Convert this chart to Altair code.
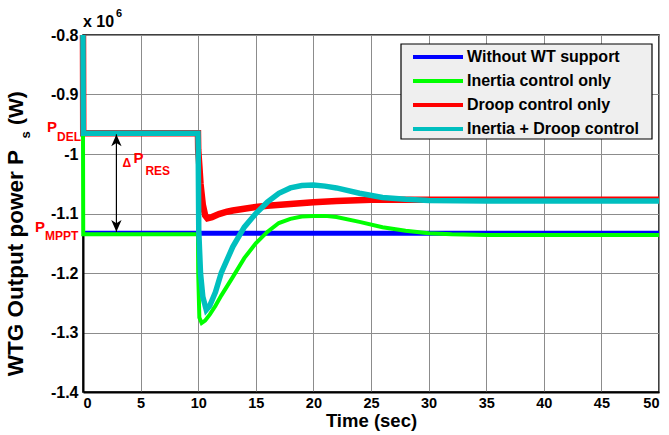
import altair as alt
import pandas as pd

FONT = "Liberation Sans"

SERIES = ["Without WT support", "Inertia control only",
          "Droop control only", "Inertia + Droop control"]
COLORS = ["#0000ff", "#00ff00", "#ff0000", "#00bfbf"]

# Output power in units of 1e6 W
blue_t = [0, 50]
blue_v = [-1.133, -1.133]

green_t = [0, 0.02, 9.98, 10.0, 10.1, 10.3, 10.6, 11.0, 11.5, 12, 13, 14, 15,
           16, 17, 18, 19, 20, 21, 22, 24, 26, 28, 30, 32, 35, 40, 50]
green_v = [-0.966, -1.135, -1.135, -1.20, -1.275, -1.284, -1.280, -1.270,
           -1.255, -1.238, -1.207, -1.175, -1.150, -1.131, -1.116, -1.109,
           -1.105, -1.104, -1.104, -1.106, -1.114, -1.123, -1.129, -1.133,
           -1.135, -1.136, -1.136, -1.136]

red_t = [0, 0.02, 9.98, 10.0, 10.1, 10.2, 10.4, 10.6, 10.8, 11.2, 11.8, 12.5,
         13, 14, 15, 16, 18, 20, 22, 25, 28, 30, 35, 50]
red_v = [-0.80, -0.965, -0.965, -0.993, -1.02, -1.05, -1.085, -1.103, -1.108,
         -1.106, -1.101, -1.097, -1.095, -1.092, -1.089, -1.087, -1.084,
         -1.081, -1.079, -1.077, -1.077, -1.077, -1.077, -1.077]

cyan_t = [0, 0.02, 9.98, 10.0, 10.05, 10.2, 10.4, 10.7, 11.0, 11.5, 12, 13,
          14, 15, 16, 17, 18, 19, 20, 21, 22, 24, 26, 28, 30, 35, 40, 50]
cyan_v = [-0.80, -0.965, -0.965, -0.99, -1.13, -1.20, -1.24, -1.262, -1.255,
          -1.232, -1.200, -1.156, -1.123, -1.100, -1.081, -1.066, -1.057,
          -1.053, -1.052, -1.054, -1.057, -1.066, -1.073, -1.076, -1.078,
          -1.079, -1.079, -1.079]

x_ticks = list(range(0, 51, 5))
y_ticks = [-1.4, -1.3, -1.2, -1.1, -1.0, -0.9, -0.8]

p_del = -0.965
p_mppt = -1.133
arrow_t = 2.9


def frame(name, t, v):
    return pd.DataFrame({"t": t, "v": v, "series": name, "k": range(len(t))})


# Legend swatch: a 50px horizontal stroke drawn from a 20px symbol slot
swatch = "M-1,0H4"

color = alt.Color(
    "series:N",
    scale=alt.Scale(domain=SERIES, range=COLORS),
    legend=alt.Legend(
        title=None, orient="none", legendX=328, legendY=10,
        symbolType=swatch, symbolSize=400, symbolStrokeWidth=4,
        labelFont=FONT, labelFontWeight="bold", labelFontSize=16,
        labelColor="black", labelLimit=400, labelOffset=32,
        padding=0, rowPadding=4,
    ),
)

x_enc = alt.X(
    "t:Q", scale=alt.Scale(domain=[0, 50], nice=False, zero=False),
    axis=alt.Axis(values=x_ticks, title="Time (sec)", labelPadding=4,
                  titlePadding=2, ticks=False, labelFontSize=14.5),
)
y_enc = alt.Y(
    "v:Q", scale=alt.Scale(domain=[-1.4, -0.8], nice=False, zero=False),
    axis=alt.Axis(values=y_ticks, title=None, labelPadding=5, ticks=False,
                  labelFontSize=16, labelExpr="toString(datum.value)"),
)

# Light grey legend panel with a black border
legend_box = alt.Chart(pd.DataFrame({"s": [""]})).mark_rect(
    fill="#efefef", stroke="black", strokeWidth=1.2
).encode(x=alt.value(318), x2=alt.value(569), y=alt.value(9), y2=alt.value(104))


def line(name, t, v, width):
    return alt.Chart(frame(name, t, v)).mark_line(
        strokeWidth=width, clip=False
    ).encode(x=x_enc, y=y_enc, color=color, order="k:Q")


lines = [
    line(SERIES[0], blue_t, blue_v, 5),
    line(SERIES[2], red_t, red_v, 6.5),
    line(SERIES[1], green_t, green_v, 4),
    line(SERIES[3], cyan_t, cyan_v, 5.5),
]


def label(text, t, v, dx, dy, size, align="left", color="red"):
    df = pd.DataFrame({"t": [t], "v": [v], "s": [text]})
    return alt.Chart(df).mark_text(
        dx=dx, dy=dy, align=align, baseline="alphabetic", fontSize=size,
        fontWeight="bold", font=FONT, color=color,
    ).encode(x="t:Q", y="v:Q", text="s:N")


def pixel_text(text, px, py, size, align="left", angle=0, baseline="alphabetic"):
    df = pd.DataFrame({"s": [text]})
    return alt.Chart(df).mark_text(
        align=align, baseline=baseline, fontSize=size, fontWeight="bold",
        font=FONT, color="black", angle=angle,
    ).encode(x=alt.value(px), y=alt.value(py), text="s:N")


annotations = [
    label("P", 0, p_del, -26, -1, 15, align="right"),
    label("DEL", 0, p_del, -26, 8, 12),
    label("P", 0, p_mppt, -38, -1, 15, align="right"),
    label("MPPT", 0, p_mppt, -38, 7, 12),
    label("\u0394", arrow_t, -1.0, 6, 13, 12),
    label("P", arrow_t, -1.0, 17, 9, 15),
    label("RES", arrow_t, -1.0, 29, 21, 12),
]

arrow_df = pd.DataFrame({"t": [arrow_t], "v": [p_del - 0.002], "v2": [p_mppt + 0.002]})
arrow_rule = alt.Chart(arrow_df).mark_rule(color="black", strokeWidth=1.2).encode(
    x="t:Q", y="v:Q", y2="v2:Q")
head_shape = "M0,-1L0.75,0.7L0,0.25L-0.75,0.7Z"
head_up = alt.Chart(arrow_df).mark_point(
    shape=head_shape, size=190, filled=True, color="black", opacity=1, yOffset=7
).encode(x="t:Q", y="v:Q")
head_down = alt.Chart(arrow_df).mark_point(
    shape=head_shape, size=190, filled=True, color="black", opacity=1,
    yOffset=-7, angle=180,
).encode(x="t:Q", y="v2:Q")

decor = [
    pixel_text("x 10", 0, -8, 16),
    pixel_text("6", 33, -18, 11),
    pixel_text("WTG Output power P", -60, 115, 22.5, align="right", angle=270),
    pixel_text("s", -53, 100, 13, align="center", angle=270),
    pixel_text("(W)", -60, 90, 21, align="left", angle=270),
]

chart = alt.layer(
    legend_box, *lines, arrow_rule, head_up, head_down, *annotations, *decor
).properties(
    width=576, height=357,
    autosize=alt.AutoSizeParams(type="none"),
    padding={"left": 83, "top": 35, "right": 10, "bottom": 43},
    background="white",
).configure_view(
    stroke="black", strokeWidth=1.5,
).configure_axis(
    labelFont=FONT, labelFontWeight="bold", labelFontSize=14,
    labelColor="black", titleFont=FONT, titleFontWeight="bold",
    titleFontSize=18.5, titleColor="black", domainColor="black",
    domainWidth=2, gridColor="#8c8c8c", gridWidth=1, gridOpacity=1,
)

chart.save("out.html", embed_options={"renderer": "svg", "actions": False})
